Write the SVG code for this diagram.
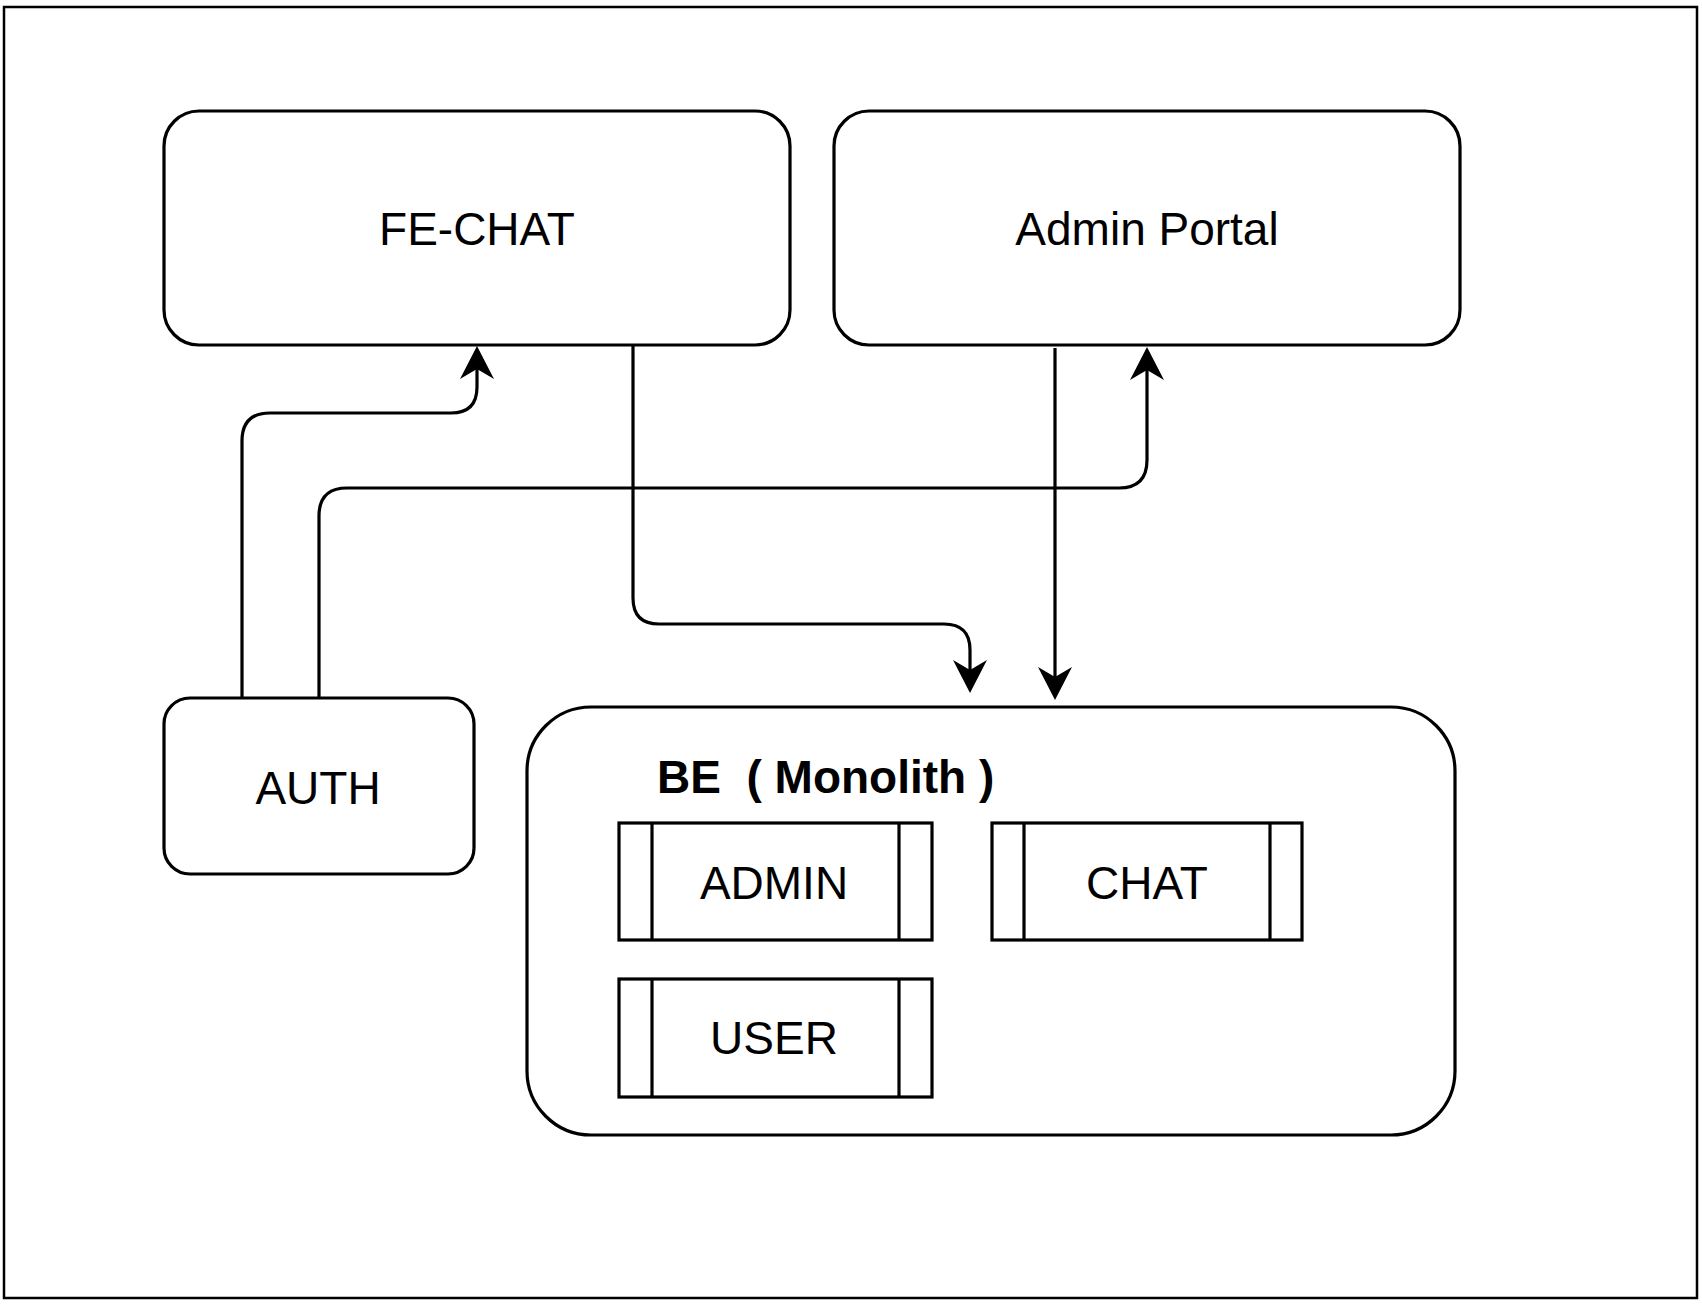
<svg xmlns="http://www.w3.org/2000/svg" width="1702" height="1306" viewBox="0 0 1702 1306">
<style>
.box{fill:#fff;stroke:#000;stroke-width:3.2}
.ln{fill:none;stroke:#000;stroke-width:3.2}
.edge{fill:none;stroke:#000;stroke-width:3.2;marker-end:url(#arr)}
.t{font-family:"Liberation Sans",Arial,Helvetica,sans-serif;font-size:46px;fill:#000;text-anchor:middle}
.b{font-weight:bold;text-anchor:start;white-space:pre}
</style>
<defs>
<marker id="arr" markerUnits="userSpaceOnUse" orient="auto" overflow="visible" markerWidth="1" markerHeight="1" refX="0" refY="0">
<path d="M23,0 L-10,-17 L0,0 L-10,17 Z" fill="#000"/>
</marker>
</defs>
<rect x="0" y="0" width="1702" height="1306" fill="#fff"/>
<rect id="frame" x="4" y="7" width="1693" height="1291" fill="none" stroke="#000" stroke-width="2.5"/>

<g id="fe-chat">
<rect class="box" x="164" y="111" width="626" height="234" rx="35" ry="35"/>
<text class="t" x="477" y="245">FE-CHAT</text>
</g>
<g id="admin-portal">
<rect class="box" x="834" y="111" width="626" height="234" rx="35" ry="35"/>
<text class="t" x="1147" y="245">Admin Portal</text>
</g>
<g id="auth">
<rect class="box" x="164" y="698" width="310" height="176" rx="26" ry="26"/>
<text class="t" x="318" y="804">AUTH</text>
</g>
<g id="be">
<rect class="box" x="527" y="707" width="928" height="428" rx="64" ry="64"/>
<text class="t b" x="657" y="793" xml:space="preserve">BE  ( Monolith )</text>
</g>
<g id="admin">
<rect class="box" x="619" y="823" width="313" height="117"/>
<line class="ln" x1="652" y1="823" x2="652" y2="940"/>
<line class="ln" x1="899" y1="823" x2="899" y2="940"/>
<text class="t" x="774" y="899">ADMIN</text>
</g>
<g id="chat">
<rect class="box" x="992" y="823" width="310" height="117"/>
<line class="ln" x1="1024" y1="823" x2="1024" y2="940"/>
<line class="ln" x1="1270" y1="823" x2="1270" y2="940"/>
<text class="t" x="1147" y="899">CHAT</text>
</g>
<g id="user">
<rect class="box" x="619" y="979" width="313" height="118"/>
<line class="ln" x1="652" y1="979" x2="652" y2="1097"/>
<line class="ln" x1="899" y1="979" x2="899" y2="1097"/>
<text class="t" x="774" y="1054">USER</text>
</g>

<g id="connectors">
<path class="edge" d="M242,698 V441 Q242,413 270,413 H451 Q477,413 477,387 V369"/>
<path class="edge" d="M319,698 V516 Q319,488 347,488 H1119 Q1147,488 1147,460 V370"/>
<path class="edge" d="M633,345 V598 Q633,624 659,624 H944 Q970,624 970,650 V670"/>
<path class="edge" d="M1055,348 V677"/>
</g>
</svg>
